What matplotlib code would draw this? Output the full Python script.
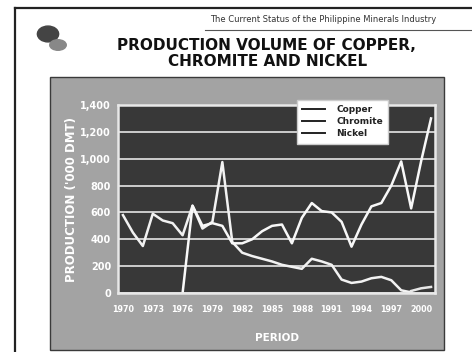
import matplotlib
matplotlib.use("Agg")
import matplotlib.pyplot as plt
from matplotlib.lines import Line2D
from matplotlib.patches import Rectangle, Ellipse
import numpy as np

years = list(range(1970, 2002))

copper = [580, 450, 350, 590, 540, 520, 430, 650, 480, 530, 975, 380,
          300, 275, 255, 235, 210, 195, 180, 255, 235, 210, 100, 75,
          85, 110, 120, 95, 20, 5, None, None]
chromite = [None] * 29 + [15, 35, 45]
nickel = [None] * 6 + [0, 650, 500, 520, 500, 370,
          370, 400, 460, 500, 510, 370, 560, 670, 610, 600,
          530, 345, 510, 645, 670, 800, 980, 630, 980, 1300]

series_names = ["Copper", "Chromite", "Nickel"]
y_ticks = [0, 200, 400, 600, 800, 1000, 1200, 1400]
x_ticks = [1970, 1973, 1976, 1979, 1982, 1985, 1988, 1991, 1994, 1997, 2000]


def as_array(vals):
    return np.array([np.nan if v is None else v for v in vals], dtype=float)


fig = plt.figure(figsize=(4.72, 3.52), dpi=100)
fig.patch.set_facecolor("white")

# slide border
fig.add_artist(Line2D([15 / 472, 1.0], [1 - 8 / 352] * 2, color="#222222", lw=1.6))
fig.add_artist(Line2D([15 / 472] * 2, [0.0, 1 - 8 / 352], color="#222222", lw=1.6))

# header strip
fig.text(210 / 472, 1 - 20 / 352, "The Current Status of the Philippine Minerals Industry",
         fontsize=6.0, color="#333333", va="center", ha="left")
fig.add_artist(Line2D([205 / 472, 1.0], [1 - 30 / 352] * 2, color="#555555", lw=0.8))

# small emblem at top left
fig.add_artist(Ellipse((48 / 472, 1 - 34 / 352), 0.045, 0.045, color="#444444"))
fig.add_artist(Ellipse((58 / 472, 1 - 45 / 352), 0.035, 0.03, color="#888888"))

# title
fig.text(266 / 472, 1 - 45 / 352, "PRODUCTION VOLUME OF COPPER,", fontsize=11,
         fontweight="bold", color="#111111", ha="center", va="center")
fig.text(268 / 472, 1 - 61 / 352, "CHROMITE AND NICKEL", fontsize=11,
         fontweight="bold", color="#111111", ha="center", va="center")

# grey chart panel
fig.add_artist(Rectangle((50 / 472, 2 / 352), (444 - 50) / 472, (350 - 77) / 352,
                         transform=fig.transFigure, facecolor="#a3a3a3",
                         edgecolor="#3a3a3a", lw=1.0, zorder=0))

ax = fig.add_axes([118 / 472, 59 / 352, (435 - 118) / 472, (293 - 105) / 352])
ax.set_facecolor("#383838")
ax.set_xlim(1969.5, 2001.4)
ax.set_ylim(0, 1400)
ax.set_yticks(y_ticks)
ax.set_yticklabels([f"{v:,}" for v in y_ticks], fontsize=7, fontweight="bold", color="white")
ax.set_xticks(x_ticks)
ax.set_xticklabels([str(v) for v in x_ticks], fontsize=5.8, fontweight="bold", color="white")
ax.tick_params(axis="y", length=0, pad=5)
ax.tick_params(axis="x", length=0, pad=9)
ax.grid(axis="y", color="#d8d8d8", lw=1.3)
ax.set_axisbelow(True)
for s in ax.spines.values():
    s.set_color("#e8e8e8")
    s.set_linewidth(1.8)

line_colors = ["#f2f2f2", "#e6e6e6", "#f8f8f8"]
for vals, col in zip([copper, chromite, nickel], line_colors):
    ax.plot(years, as_array(vals), color=col, lw=1.8, solid_joinstyle="round")

ax.set_ylabel("PRODUCTION ('000 DMT)", fontsize=8.5, fontweight="bold", color="white", labelpad=2)
ax.set_xlabel("PERIOD", fontsize=7.5, fontweight="bold", color="white", labelpad=13)

handles = [Line2D([], [], color="#222222", lw=1.4) for _ in series_names]
leg = fig.legend(handles, series_names, loc="upper left",
                 bbox_to_anchor=(292 / 472, 1 - 95 / 352),
                 frameon=True, fancybox=False, borderpad=0.6, labelspacing=0.35,
                 handlelength=2.6, handletextpad=1.2,
                 prop={"weight": "bold", "size": 6.5})
leg.get_frame().set_edgecolor("#cccccc")
leg.get_frame().set_facecolor("white")
leg.get_frame().set_alpha(1.0)
for t in leg.get_texts():
    t.set_color("#222222")

fig.savefig("out.png", dpi=100)
